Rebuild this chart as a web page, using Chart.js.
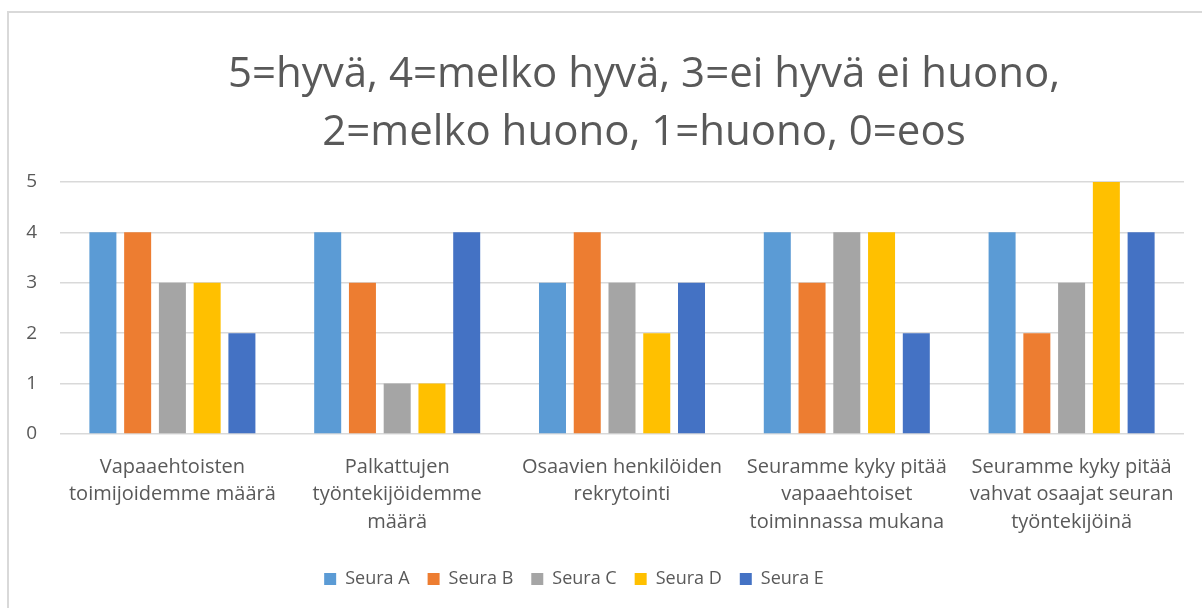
<!DOCTYPE html>
<html>
<head>
<meta charset="utf-8">
<script src="https://cdn.jsdelivr.net/npm/chart.js@4/dist/chart.umd.min.js"></script>
<style>
    html, body { margin: 0; padding: 0; background: #fff; overflow: hidden; }
    #frame {
        position: absolute; left: 7px; top: 11px;
        width: 1300px; height: 700px;
        border: 2px solid #d9d9d9;
    }
    #wrap { position: absolute; left: 0; top: 0; width: 1202px; height: 608px; }
</style>
</head>
<body>
<div id="frame"></div>
<div id="wrap"><canvas id="chart"></canvas></div>
<script>
const categories = [
    ['Vapaaehtoisten', 'toimijoidemme määrä'],
    ['Palkattujen', 'työntekijöidemme', 'määrä'],
    ['Osaavien henkilöiden', 'rekrytointi'],
    ['Seuramme kyky pitää', 'vapaaehtoiset', 'toiminnassa mukana'],
    ['Seuramme kyky pitää', 'vahvat osaajat seuran', 'työntekijöinä']
];
const seriesNames = ['Seura A', 'Seura B', 'Seura C', 'Seura D', 'Seura E'];
const seuraA = [4, 4, 3, 4, 4];
const seuraB = [4, 3, 4, 3, 2];
const seuraC = [3, 1, 3, 4, 3];
const seuraD = [3, 1, 2, 4, 5];
const seuraE = [2, 4, 3, 2, 4];
const yTicks = [0, 1, 2, 3, 4, 5];
const titleLines = ['5=hyvä, 4=melko hyvä, 3=ei hyvä ei huono,', '2=melko huono, 1=huono, 0=eos'];

const colors = ['#5b9bd5', '#ed7d31', '#a5a5a5', '#ffc000', '#4472c4'];
const textColor = '#595959';
const fontFamily = '"Open Sans", Lato, sans-serif';

// nudges the title and legend to where the original puts them
const shiftBlocks = {
    id: 'shiftBlocks',
    afterLayout(chart) {
        const t = chart.titleBlock;
        t.left += 52; t.right += 52;
        const l = chart.legend;
        l.left -= 18; l.right -= 18;
    }
};

const allSeries = [seuraA, seuraB, seuraC, seuraD, seuraE];

new Chart(document.getElementById('chart'), {
    type: 'bar',
    data: {
        labels: categories,
        datasets: allSeries.map((vals, i) => ({
            label: seriesNames[i],
            data: vals,
            backgroundColor: colors[i],
            borderWidth: 0,
            barPercentage: 0.777,
            categoryPercentage: 0.773
        }))
    },
    plugins: [shiftBlocks],
    options: {
        responsive: true,
        maintainAspectRatio: false,
        animation: false,
        layout: { padding: { top: 46, right: 18, bottom: 10, left: 0 } },
        plugins: {
            title: {
                display: true,
                text: titleLines,
                color: textColor,
                font: { family: fontFamily, size: 42, weight: 'normal', lineHeight: 1.38 },
                padding: { top: 0, bottom: 20 }
            },
            legend: {
                position: 'bottom',
                labels: {
                    color: textColor,
                    font: { family: fontFamily, size: 18 },
                    boxWidth: 12,
                    boxHeight: 12,
                    padding: 18
                }
            },
            tooltip: { enabled: false }
        },
        scales: {
            x: {
                grid: { display: false },
                border: { display: false },
                ticks: {
                    color: textColor,
                    font: { family: fontFamily, size: 20, lineHeight: 1.38 },
                    maxRotation: 0,
                    autoSkip: false,
                    padding: 11
                },
                afterFit(scale) { scale.height = 118; }
            },
            y: {
                min: 0,
                max: 5,
                afterBuildTicks(scale) { scale.ticks = yTicks.map(v => ({ value: v })); },
                grid: { color: '#d9d9d9', lineWidth: 1.5, drawTicks: false },
                border: { display: false },
                ticks: {
                    color: textColor,
                    font: { family: fontFamily, size: 19 },
                    padding: 23
                },
                afterFit(scale) { scale.width = 60; }
            }
        }
    }
});
</script>
</body>
</html>
